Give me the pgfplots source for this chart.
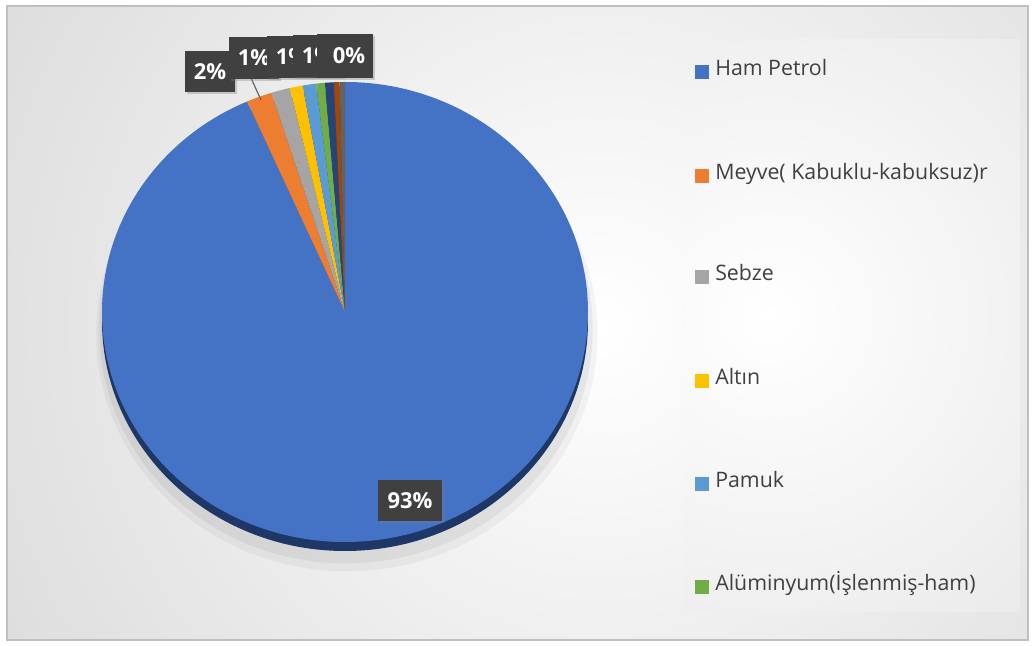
\documentclass[border=0pt]{standalone}
\usepackage{fontspec}
\setmainfont{Open Sans}
\usepackage{pgfplots}
\usepackage{pgfplotstable}
\pgfplotsset{compat=1.18}
\usetikzlibrary{shadows}
\definecolor{cA}{HTML}{4472C4}
\definecolor{cB}{HTML}{ED7D31}
\definecolor{cC}{HTML}{A5A5A5}
\definecolor{cD}{HTML}{FFC000}
\definecolor{cE}{HTML}{5B9BD5}
\definecolor{cF}{HTML}{70AD47}
\definecolor{cG}{HTML}{264478}
\definecolor{cH}{HTML}{9E480E}
\definecolor{cI}{HTML}{636363}
\definecolor{rim}{HTML}{1E3766}
\definecolor{lblgray}{HTML}{404040}
\definecolor{txtgray}{HTML}{404040}
\definecolor{framegray}{HTML}{BFBFBF}

% share of each category, in %
\pgfplotstableread{
value col
93.40 cA
1.70  cB
1.25  cC
0.86  cD
0.89  cE
0.58  cF
0.58  cG
0.39  cH
0.35  cI
}\piedata

\tikzset{lbl/.style={fill=lblgray, text=white, inner sep=0pt,
  font=\bfseries\fontsize{16.5}{19}\selectfont,
  drop shadow={opacity=0.35, shadow xshift=1.5pt, shadow yshift=-1.5pt}},
  leg/.style={anchor=mid west, inner sep=0pt, text=txtgray, font=\fontsize{16}{18}\selectfont}}

\begin{document}
\begin{tikzpicture}
\begin{axis}[
  width=774pt, height=484.5pt, scale only axis,
  xmin=0, xmax=1032, ymin=0, ymax=646,
  axis lines=none, ticks=none, clip=false]
  % page background and frame
  \fill[white] (axis cs:0,0) rectangle (axis cs:1032,646);
  \begin{scope}
    \clip (axis cs:8,7) rectangle (axis cs:1027,639);
    \shade[inner color=white, outer color=gray!52] (axis cs:600,320) circle (1000pt);
  \end{scope}
  \draw[framegray, line width=0.8pt] (axis cs:7,6) rectangle (axis cs:1028,640);
  % legend panel
  \begin{scope}
    \clip (axis cs:683,34) rectangle (axis cs:1020,606);
    \shade[inner color=white, outer color=gray!32] (axis cs:770,330) circle (580pt);
  \end{scope}
  % pie shadow and rim
  \fill[black, opacity=0.04] (axis cs:347,312) ellipse [x radius=188pt, y radius=178pt];
  \fill[black, opacity=0.05] (axis cs:346,316) ellipse [x radius=185pt, y radius=175pt];
  \fill[rim] (axis cs:345,325) ellipse [x radius=182.25pt, y radius=172.5pt];
  % pie wedges, clockwise from the top
  \def\cum{0}
  \pgfplotsforeachungrouped \i in {0,...,8}{%
    \pgfplotstablegetelem{\i}{value}\of\piedata \let\v\pgfplotsretval
    \pgfplotstablegetelem{\i}{col}\of\piedata \let\c\pgfplotsretval
    \pgfmathsetmacro\s{90-3.6*\cum}%
    \pgfmathsetmacro\e{90-3.6*(\cum+\v)}%
    \edef\temp{\noexpand\fill[\c] (axis cs:345,334) -- ++(\s:182.25pt and 172.5pt)
      arc[start angle=\s, end angle=\e, x radius=182.25pt, y radius=172.5pt] -- cycle;}%
    \temp
    \pgfmathsetmacro\cum{\cum+\v}%
  }
  % leader line
  \draw[gray!80!black, line width=0.9pt] (axis cs:251,568) -- (axis cs:261,546);
  % data labels
  \node[lbl, minimum width=48pt, minimum height=30.75pt] at (axis cs:410,145.5) {93\%};
  \node[lbl, minimum width=37.5pt, minimum height=30.75pt] at (axis cs:210,574.5) {2\%};
  \node[lbl, minimum width=37.5pt, minimum height=31.5pt] at (axis cs:254,588) {1\%};
  \node[lbl, minimum width=37.5pt, minimum height=31.5pt] at (axis cs:292,589) {1\%};
  \node[lbl, minimum width=37.5pt, minimum height=31.5pt] at (axis cs:318,590) {1\%};
  \node[lbl, minimum width=42pt, minimum height=33pt] at (axis cs:345,590) {\hspace*{6pt}0\%};
  % legend
  \fill[cA] (axis cs:695,567) rectangle (axis cs:709,581);
  \node[leg] at (axis cs:715,574) {Ham Petrol};
  \fill[cB] (axis cs:695,463) rectangle (axis cs:709,477);
  \node[leg] at (axis cs:715,470) {Meyve( Kabuklu-kabuksuz)r};
  \fill[cC] (axis cs:695,362) rectangle (axis cs:709,376);
  \node[leg] at (axis cs:715,369) {Sebze};
  \fill[cD] (axis cs:695,258) rectangle (axis cs:709,272);
  \node[leg] at (axis cs:715,265) {Altın};
  \fill[cE] (axis cs:695,155) rectangle (axis cs:709,169);
  \node[leg] at (axis cs:715,162) {Pamuk};
  \fill[cF] (axis cs:695,52) rectangle (axis cs:709,66);
  \node[leg] at (axis cs:715,59) {Alüminyum(İşlenmiş-ham)};
\end{axis}
\end{tikzpicture}
\end{document}
